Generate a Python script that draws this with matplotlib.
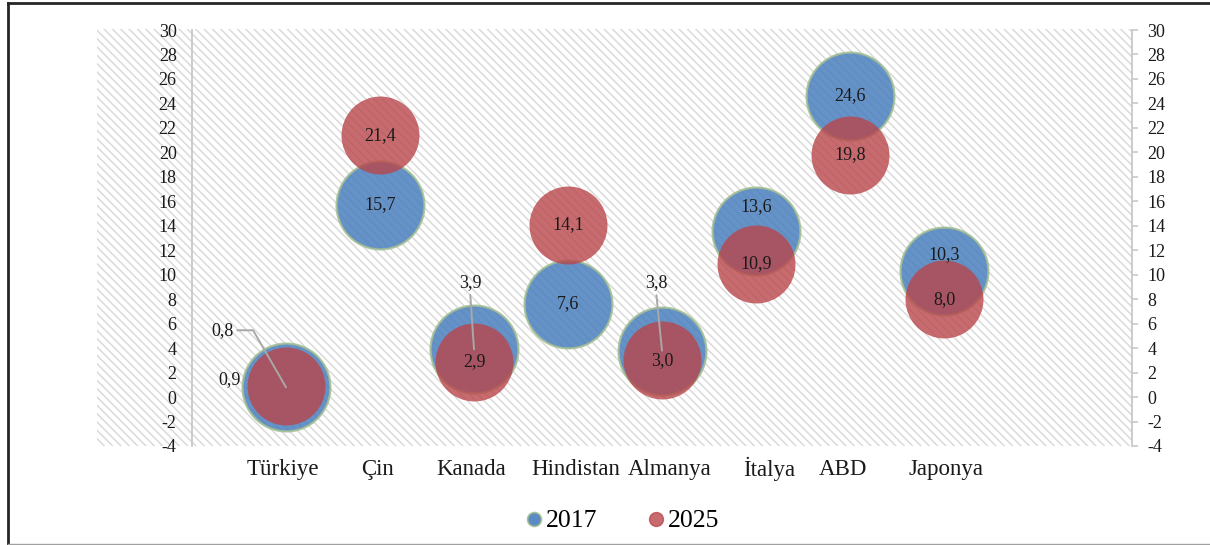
import matplotlib
matplotlib.use("Agg")
import matplotlib.pyplot as plt
from matplotlib.patches import Rectangle
from matplotlib.lines import Line2D

plt.rcParams['font.family'] = ['Liberation Serif', 'DejaVu Serif']
plt.rcParams['axes.unicode_minus'] = False
plt.rcParams['hatch.linewidth'] = 1.1

countries = ['Türkiye', 'Çin', 'Kanada', 'Hindistan', 'Almanya', 'İtalya', 'ABD', 'Japonya']
v2017 = [0.8, 15.7, 3.9, 7.6, 3.8, 13.6, 24.6, 10.3]
v2025 = [0.9, 21.4, 2.9, 14.1, 3.0, 10.9, 19.8, 8.0]
years = ['2017', '2025']

# label placement (pixels), leader line where the label sits outside the bubble
off2017 = [(-64, 57), (0, 0), (-4, 67), (0, 0), (-6, 68), (0, 24), (0, 0), (0, 16)]
off2025 = [(-56, 6), (0, 0), (0, 0), (0, 0), (0, 0), (0, 0), (0, 0), (0, 0)]
name_dx = [-0.03, -0.03, -0.03, 0.08, 0.08, 0.14, -0.08, 0.02]

W, H = 1210, 545
fig = plt.figure(figsize=(W / 100, H / 100), dpi=100)

# hatched plot area (covers the left tick labels too)
bg = Rectangle((97 / W, 1 - 446 / H), (1132 - 97) / W, (446 - 29) / H,
               transform=fig.transFigure, facecolor='white', edgecolor='#DADADA',
               linewidth=0, hatch='\\\\\\\\', zorder=0)
fig.add_artist(bg)

ax = fig.add_axes([192 / W, 1 - 446 / H, 940 / W, 416 / H])
ax.set_facecolor('none')
ax.set_xlim(0, 10)
ax.set_ylim(-4, 30)
ax.set_yticks(range(-4, 31, 2))
ax.set_xticks([])
for s in ['top', 'bottom', 'right']:
    ax.spines[s].set_visible(False)
ax.spines['left'].set_color('#C8C8C8')
ax.spines['left'].set_linewidth(1.3)
ax.tick_params(axis='y', length=0, pad=11, labelsize=13, labelcolor='#1A1A1A')

ax2 = ax.twinx()
ax2.set_ylim(-4, 30)
ax2.set_yticks(range(-4, 31, 2))
for s in ['top', 'bottom', 'left']:
    ax2.spines[s].set_visible(False)
ax2.spines['right'].set_color('#C8C8C8')
ax2.spines['right'].set_linewidth(1.3)
ax2.tick_params(axis='y', length=4, width=1.2, color='#C8C8C8', pad=7,
                labelsize=13, labelcolor='#1A1A1A')

xs = list(range(1, len(countries) + 1))
blue = '#4A7FBD'
red = '#B9464B'
ax.scatter(xs, v2017, s=4000, color=blue, alpha=0.85, edgecolors='#A3BF93',
           linewidths=1.6, zorder=3)
ax.scatter(xs, v2025, s=3150, color=red, alpha=0.8, linewidths=0, zorder=4)


def fmt(v):
    return f"{v:.1f}".replace('.', ',')


for i, x in enumerate(xs):
    for vals, offs in ((v2017, off2017), (v2025, off2025)):
        dx, dy = offs[i]
        kw = {}
        if i in (0, 2, 4) and vals is v2017:
            rel = (1, 0.5) if i == 0 else (0.5, 0)
            cs = 'angle,angleA=0,angleB=120,rad=0' if i == 0 else 'arc3'
            kw['arrowprops'] = dict(arrowstyle='-', color='#A8A8A8', lw=1.4,
                                    shrinkA=1, shrinkB=0, relpos=rel,
                                    connectionstyle=cs)
        ax.annotate(fmt(vals[i]), (x, vals[i]), xytext=(dx, dy),
                    textcoords='offset pixels', ha='center', va='center',
                    fontsize=13, color='#1A1A1A', zorder=6, **kw)

for i, x in enumerate(xs):
    ax.text(x + name_dx[i], -5.9, countries[i], ha='center', va='center',
            fontsize=16.5, color='#1A1A1A', clip_on=False)

handles = [Line2D([], [], linestyle='none', marker='o', markersize=10,
                  markerfacecolor=blue, markeredgecolor='#A3BF93', markeredgewidth=1.2,
                  alpha=0.9),
           Line2D([], [], linestyle='none', marker='o', markersize=10,
                  markerfacecolor=red, markeredgecolor=red, alpha=0.8)]
fig.legend(handles, years, loc='center', bbox_to_anchor=(621.5 / W, 1 - 521 / H),
           ncol=2, frameon=False, fontsize=18.5, handlelength=0.8,
           handletextpad=0.06, columnspacing=1.9)

# frame around the figure
fig.add_artist(Line2D([8 / W, 1], [1 - 3 / H, 1 - 3 / H], transform=fig.transFigure,
                      color='#262626', lw=2))
fig.add_artist(Line2D([8 / W, 8 / W], [1 - 3 / H, 1 - 544 / H], transform=fig.transFigure,
                      color='#262626', lw=2))
fig.add_artist(Line2D([8 / W, 1], [1 - 544 / H, 1 - 544 / H], transform=fig.transFigure,
                      color='#A0A0A0', lw=1))

fig.savefig('out.png', dpi=100)
